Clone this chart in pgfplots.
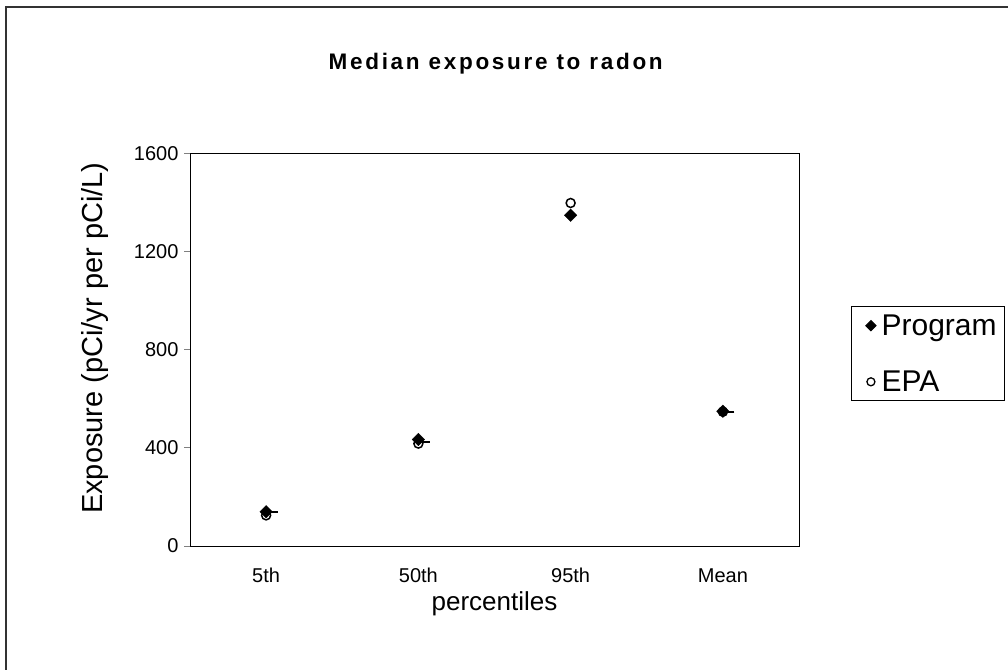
\documentclass[border=0pt]{standalone}
\usepackage{fontspec}
\setmainfont{Liberation Sans}
\usepackage{pgfplots}
\pgfplotsset{compat=1.18}
\begin{document}
\begin{tikzpicture}[x=1pt,y=1pt]
\useasboundingbox (0,0) rectangle (1008,669);
\draw[line width=1.3pt, black!80] (6,-20) -- (6,662) -- (1040,662);
\begin{axis}[at={(190pt,123pt)}, anchor=south west, scale only axis,
  width=609pt, height=392pt,
  xmin=-0.5, xmax=3.5, ymin=0, ymax=1600,
  xtick={0,1,2,3}, xticklabels={5th,50th,95th,Mean},
  x tick style={draw=none},
  extra x ticks={-0.5,0.5,1.5,2.5,3.5}, extra x tick labels={},
  extra x tick style={tick style={draw=black, line width=1pt}},
  ytick={0,400,800,1200,1600},
  /pgf/number format/assume math mode=true,
  /pgf/number format/1000 sep={},
  xtick pos=bottom, ytick pos=left,
  tick align=outside, major tick length=6pt,
  axis line style={line width=1pt},
  y tick style={line width=1pt},
  tick label style={font=\fontsize{20}{24}\selectfont},
  yticklabel style={xshift=-2pt},
  xticklabel style={yshift=-13pt, text height=14pt, text depth=4pt},
  title={Median exposure to radon},
  title style={at={(axis description cs:0.502,1.215)}, anchor=center,
    font=\fontsize{22.5}{26}\selectfont\bfseries\addfontfeature{LetterSpace=12}},
  ylabel={Exposure (pCi/yr per pCi/L)},
  ylabel style={at={(axis description cs:-0.156,0.53)}, anchor=center,
    font=\fontsize{29}{33}\selectfont},
  xlabel={percentiles},
  xlabel style={at={(axis description cs:0.5,-0.148)}, anchor=center,
    font=\fontsize{26}{30}\selectfont},
  legend style={at={(axis description cs:1.085,0.612)}, anchor=north west,
    draw=black, line width=1pt, font=\fontsize{30}{34}\selectfont,
    row sep=30pt, inner xsep=6pt, inner ysep=6pt},
  legend image code/.code={\path (0pt,0pt) (21pt,0pt);
    \draw[#1] plot coordinates {(13pt,0pt)};},
  legend cell align=left,
]
\addplot[only marks, mark=-, mark size=4pt, line width=1.6pt, black, forget plot]
  coordinates {(0.05,139) (1.05,424) (2,1351) (3.05,547)};
\addplot[only marks, mark=square*, mark options={rotate=45}, mark size=4.4pt,
  black, fill=black,
  legend image post style={mark size=3.6pt}]
  coordinates {(0,140) (1,435) (2,1350) (3,550)};
\addlegendentry{Program}
\addplot[only marks, mark=o, mark size=4.5pt, line width=1.5pt, black,
  legend image post style={mark size=4pt, line width=1.3pt}]
  coordinates {(0,125) (1,418) (2,1400) (3,548)};
\addlegendentry{EPA}
\end{axis}
\end{tikzpicture}
\end{document}
